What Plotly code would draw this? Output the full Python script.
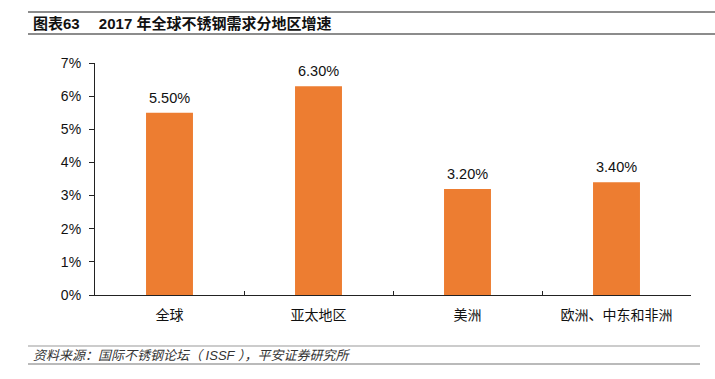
import plotly.graph_objects as go

categories = ["全球", "亚太地区", "美洲", "欧洲、中东和非洲"]
growth = [5.5, 6.3, 3.2, 3.4]
y_ticks = [0, 1, 2, 3, 4, 5, 6, 7]
y_tick_labels = ["0%", "1%", "2%", "3%", "4%", "5%", "6%", "7%"]
title_text = "图表63\u2003 2017 年全球不锈钢需求分地区增速"
source_text = "资料来源：国际不锈钢论坛（ ISSF ），平安证券研究所"

FONT = "Liberation Sans, Arial, Noto Sans CJK SC, sans-serif"
ORANGE = "#ED7D31"

fig = go.Figure(go.Bar(
    x=categories,
    y=growth,
    marker=dict(color=ORANGE, line=dict(width=0)),
    width=0.315,
    hoverinfo="skip",
))

W, H = 715, 379
L, R, T, B = 95, 24, 63, 84
pw = W - L - R
ph = H - T - B

def px_x(x):
    return (x - L) / pw

def px_y(y):
    return (H - B - y) / ph

shapes = []
for y, x0, x1, col, w in [
    (12, 28, 715, "#666", 1.5),
    (34, 28, 715, "#666", 1.5),
    (346, 28, 700, "#999", 1.2),
    (364, 28, 700, "#777", 1.2),
]:
    shapes.append(dict(type="line", xref="paper", yref="paper",
                       x0=px_x(x0), x1=px_x(x1), y0=px_y(y), y1=px_y(y),
                       line=dict(color=col, width=w)))

annotations = [
    dict(text=f"<b>{title_text}</b>", xref="paper", yref="paper",
         x=px_x(31), y=px_y(24), xanchor="left", yanchor="middle",
         showarrow=False, font=dict(size=15, color="#111", family=FONT)),
    dict(text=f"<i>{source_text}</i>", xref="paper", yref="paper",
         x=px_x(31), y=px_y(355), xanchor="left", yanchor="middle",
         showarrow=False, font=dict(size=13, color="#333", family=FONT)),
]
for c, v in zip(categories, growth):
    annotations.append(dict(
        text=f"{v:.2f}%", x=c, y=v, xref="x", yref="y",
        xanchor="center", yanchor="bottom", yshift=5, showarrow=False,
        font=dict(size=14.5, color="#111", family=FONT),
    ))

fig.update_layout(
    width=W, height=H,
    margin=dict(l=L, r=R, t=T, b=B, autoexpand=False),
    paper_bgcolor="white", plot_bgcolor="white",
    showlegend=False,
    shapes=shapes,
    annotations=annotations,
    font=dict(family=FONT, size=14, color="#111"),
    bargap=0.685,
)

fig.update_xaxes(
    showline=True, linecolor="#222", linewidth=1.2,
    ticks="inside", ticklen=4, tickcolor="#222",
    tickson="boundaries",
    showgrid=False,
    ticklabelstandoff=7,
    tickfont=dict(size=14, color="#111", family=FONT),
)
fig.update_yaxes(
    range=[0, 7],
    tickvals=y_ticks, ticktext=y_tick_labels,
    showline=True, linecolor="#222", linewidth=1.2,
    ticks="outside", ticklen=5, tickcolor="#222",
    showgrid=False, zeroline=False,
    ticklabelstandoff=5,
    tickfont=dict(size=14, color="#111", family=FONT),
)

fig.write_html(
    "out.html",
    config={"displayModeBar": False},
    post_script="document.body.style.margin='0';document.body.style.overflow='hidden';",
)
